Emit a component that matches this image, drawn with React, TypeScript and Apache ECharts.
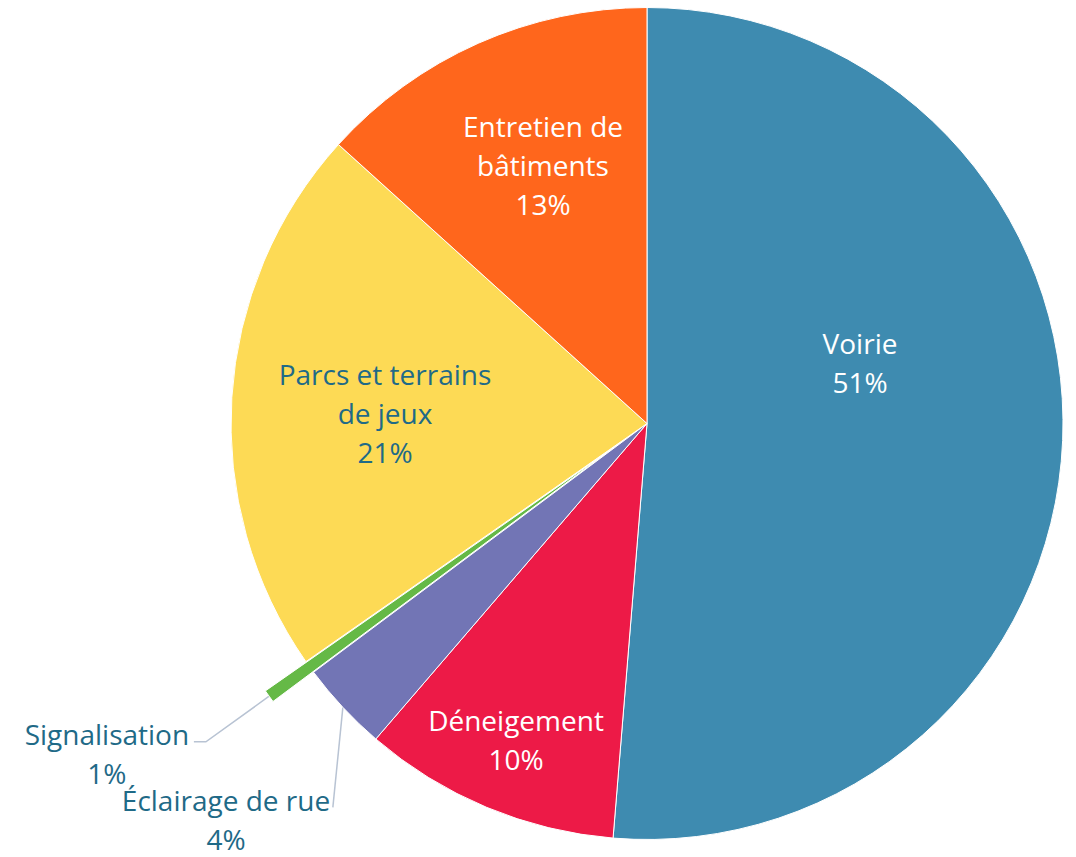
import React, { useEffect, useRef } from 'react';
import * as echarts from 'echarts';

// Data (percent shares)
const categories = [
  'Voirie',
  'Déneigement',
  'Éclairage de rue',
  'Signalisation',
  'Parcs et terrains de jeux',
  'Entretien de bâtiments',
];
const values = [51.3, 10.0, 3.5, 0.5, 21.4, 13.3];
const labelNames = [
  'Voirie',
  'Déneigement',
  'Éclairage de rue',
  'Signalisation',
  'Parcs et terrains\nde jeux',
  'Entretien de\nbâtiments',
];
const explodedFlags = [false, false, false, true, false, false];

// Styles and layout
const colors = ['#3E8BB0', '#ED1A47', '#7275B5', '#65B946', '#FDDA55', '#FF661C'];
const labelColors = ['#FFFFFF', '#FFFFFF', '#1F6A87', '#1F6A87', '#1F6A87', '#FFFFFF'];
const labelInside = [true, true, false, false, true, true];
// fixed label anchors (null = library default placement)
const labelCenters: ([number, number] | null)[] = [
  [860, 362.5],
  [516, 739.5],
  [226, 819.5],
  null,
  [385, 412.5],
  [543, 164.5],
];

const FONT = 'Open Sans';
const FS = 28;
const LH = 39;

export default function App() {
  const ref = useRef<HTMLDivElement>(null);
  useEffect(() => {
    if (!ref.current) return;
    const chart = echarts.init(ref.current, undefined, { renderer: 'svg' });
    const data = categories.map((name, i) => ({
      name,
      value: values[i],
      selected: explodedFlags[i],
      itemStyle: { color: colors[i] },
      label: {
        position: labelInside[i] ? 'inside' : 'outside',
        color: labelColors[i],
        padding: labelCenters[i] ? 0 : [24, 0, 0, 0],
      },
      labelLine: { show: !labelInside[i] },
    }));
    chart.setOption({
      animation: false,
      backgroundColor: '#FFFFFF',
      series: [
        {
          type: 'pie',
          center: [647, 423.5],
          radius: 416,
          startAngle: 90,
          clockwise: true,
          percentPrecision: 0,
          selectedMode: 'multiple',
          selectedOffset: 50,
          avoidLabelOverlap: false,
          data,
          itemStyle: { borderColor: '#FFFFFF', borderWidth: 1 },
          select: { itemStyle: { borderColor: '#FFFFFF', borderWidth: 1 } },
          emphasis: { disabled: true },
          label: {
            show: true,
            fontFamily: FONT,
            fontSize: FS,
            lineHeight: LH,
            align: 'center',
            formatter: (p: any) => {
              const i = p.dataIndex;
              if (!labelCenters[i]) {
                return `{c|${labelNames[i]}}\n{c|${p.percent}%}`;
              }
              return `${labelNames[i]}\n${p.percent}%`;
            },
            rich: {
              c: {
                width: 164,
                align: 'center',
                fontFamily: FONT,
                fontSize: FS,
                lineHeight: LH,
                color: '#1F6A87',
              },
            },
          },
          labelLine: {
            length: 78,
            length2: 12,
            lineStyle: { color: '#B8C3D3', width: 1.5 },
          },
          labelLayout: (params: any) => {
            const i = params.dataIndex;
            const c = labelCenters[i];
            if (!c) return {};
            const res: any = { x: c[0], y: c[1], align: 'center', verticalAlign: 'middle' };
            const pts = params.labelLinePoints;
            if (i === 2 && pts && pts[0]) {
              const p0 = pts[0];
              res.labelLinePoints = [p0, [p0[0] - 5, p0[1] + 50], [p0[0] - 10, p0[1] + 100]];
            }
            return res;
          },
        },
      ],
    });
    return () => chart.dispose();
  }, []);
  return (
    <div
      ref={ref}
      style={{ position: 'absolute', left: 0, top: 0, width: 1076, height: 857 }}
    />
  );
}
